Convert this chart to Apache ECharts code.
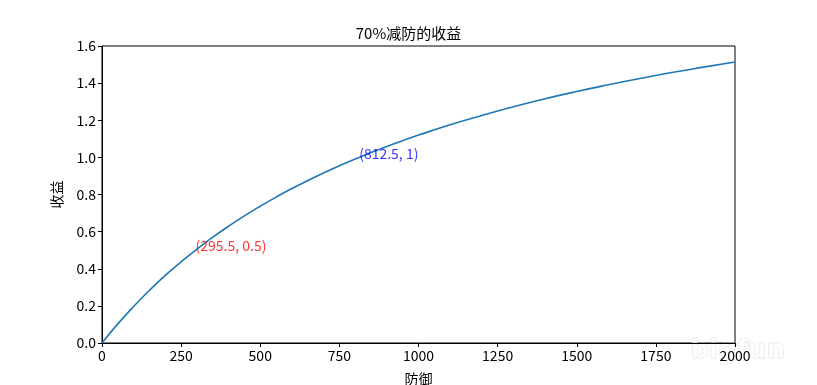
<!DOCTYPE html>
<html>
<head>
<meta charset="utf-8">
<script src="https://cdn.jsdelivr.net/npm/echarts@6/dist/echarts.min.js"></script>
<style>html,body{margin:0;padding:0;background:#fff}#c{width:817px;height:385px}</style>
</head>
<body>
<div id="c"></div>
<script>
var titleText = '70%减防的收益';
var xName = '防御';
var yName = '收益';
var defense = [0,50,100,150,200,250,300,350,400,450,500,550,600,650,700,750,800,850,900,950,1000,1100,1200,1300,1400,1500,1600,1700,1800,1900,2000];
var gain = [0,0.103,0.197,0.284,0.364,0.437,0.506,0.570,0.629,0.685,0.737,0.786,0.832,0.875,0.916,0.955,0.991,1.026,1.059,1.090,1.120,1.176,1.226,1.273,1.316,1.355,1.391,1.425,1.457,1.486,1.514];
var annoPoints = [[295.5, 0.5], [812.5, 1]];
var annoLabels = ['(295.5, 0.5)', '(812.5, 1)'];
var annoColors = ['#ff0000', '#0000ff'];

var font = '"Noto Sans CJK SC", "Noto Sans", sans-serif';
var chart = echarts.init(document.getElementById('c'));
var lineData = defense.map(function (d, i) { return [d, gain[i]]; });
var annoData = annoPoints.map(function (p, i) {
  return {
    value: p,
    label: { show: true, formatter: annoLabels[i], color: annoColors[i] }
  };
});
chart.setOption({
  animation: false,
  textStyle: { fontFamily: font },
  title: {
    text: titleText, left: 'center', top: 21,
    textStyle: { fontFamily: font, fontSize: 15, fontWeight: 'normal', color: '#000' }
  },
  grid: { left: 102, right: 82, top: 46, bottom: 42, outerBoundsMode: 'none', containLabel: false, show: true, borderColor: '#000', borderWidth: 1, backgroundColor: 'transparent' },
  xAxis: {
    type: 'value', min: 0, max: 2000, interval: 250,
    name: xName, nameLocation: 'middle', nameGap: 29,
    nameTextStyle: { fontFamily: font, fontSize: 14, color: '#000' },
    axisLine: { show: true, lineStyle: { color: '#000', width: 1 } },
    axisTick: { show: true, inside: false, length: 4, lineStyle: { color: '#000' } },
    axisLabel: { color: '#000', fontSize: 14, margin: 6, fontFamily: font, formatter: function (v) { return String(v); } },
    splitLine: { show: false }
  },
  yAxis: {
    type: 'value', min: 0, max: 1.6, interval: 0.2,
    name: yName, nameLocation: 'middle', nameGap: 38,
    nameTextStyle: { fontFamily: font, fontSize: 14, color: '#000' },
    axisLine: { show: true, lineStyle: { color: '#000', width: 1 } },
    axisTick: { show: true, inside: false, length: 4, lineStyle: { color: '#000' } },
    axisLabel: { color: '#000', fontSize: 14, margin: 6, fontFamily: font, formatter: function (v) { return v.toFixed(1); } },
    splitLine: { show: false }
  },
  series: [
    {
      type: 'line', data: lineData, showSymbol: false, smooth: true,
      lineStyle: { color: '#1f77b4', width: 1.6 }, itemStyle: { color: '#1f77b4' }
    },
    {
      type: 'scatter', data: annoData, symbolSize: 0.01, z: 5,
      itemStyle: { color: 'transparent' },
      label: { show: true, position: [0, 0], align: 'left', verticalAlign: 'middle', offset: [0, -4], fontSize: 14, fontFamily: font }
    }
  ],
  graphic: [
    {
      type: 'text', left: 690, top: 338,
      style: { text: 'bigfun', fontSize: 26, fontWeight: 'bold', fontFamily: 'DejaVu Sans', fill: 'rgba(255,255,255,0.7)', stroke: 'rgba(215,215,215,0.7)', lineWidth: 1 }
    }
  ]
});
</script>
</body>
</html>
